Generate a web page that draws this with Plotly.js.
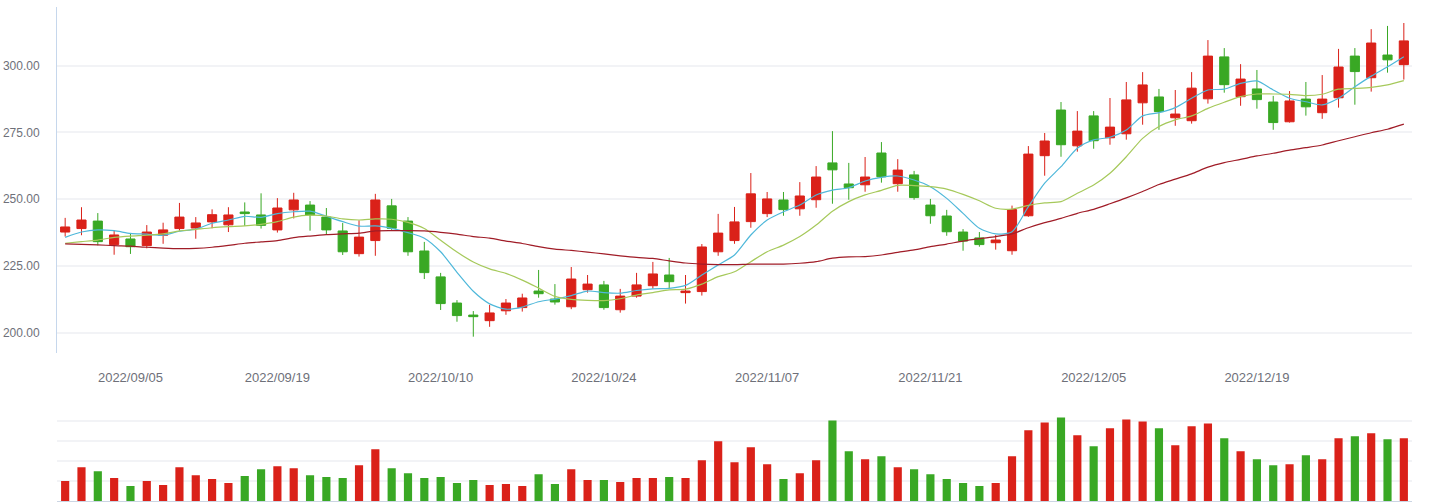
<!DOCTYPE html>
<html>
<head>
<meta charset="utf-8">
<script src="https://cdn.plot.ly/plotly-3.0.1.min.js"></script>
<style>html,body{margin:0;padding:0;background:#fff;}#chart{width:1429px;height:502px;}</style>
</head>
<body>
<div id="chart"></div>
<script>
const dates = [
"2022/08/30","2022/08/31","2022/09/01","2022/09/02","2022/09/05","2022/09/06","2022/09/07","2022/09/08","2022/09/09",
"2022/09/13","2022/09/14","2022/09/15","2022/09/16","2022/09/19","2022/09/20","2022/09/21","2022/09/22","2022/09/23",
"2022/09/26","2022/09/27","2022/09/28","2022/09/29","2022/09/30",
"2022/10/10","2022/10/11","2022/10/12","2022/10/13","2022/10/14","2022/10/17","2022/10/18","2022/10/19","2022/10/20","2022/10/21",
"2022/10/24","2022/10/25","2022/10/26","2022/10/27","2022/10/28","2022/10/31",
"2022/11/01","2022/11/02","2022/11/03","2022/11/04","2022/11/07","2022/11/08","2022/11/09","2022/11/10","2022/11/11",
"2022/11/14","2022/11/15","2022/11/16","2022/11/17","2022/11/18","2022/11/21","2022/11/22","2022/11/23","2022/11/24","2022/11/25",
"2022/11/28","2022/11/29","2022/11/30","2022/12/01","2022/12/02",
"2022/12/05","2022/12/06","2022/12/07","2022/12/08","2022/12/09","2022/12/12","2022/12/13","2022/12/14","2022/12/15","2022/12/16",
"2022/12/19","2022/12/20","2022/12/21","2022/12/22","2022/12/23","2022/12/26","2022/12/27","2022/12/28","2022/12/29","2022/12/30"
];
const openP = [237.7,239.0,241.8,233.0,235.1,232.6,236.5,239.0,239.2,241.5,240.4,245.2,244.1,238.5,246.0,247.8,243.3,238.1,229.6,234.5,247.5,241.8,230.6,
220.9,211.1,206.6,204.5,208.2,209.4,215.6,212.6,209.7,216.1,217.9,208.6,213.7,217.6,221.6,215.0,
215.4,230.3,234.5,241.6,244.6,249.7,246.4,249.8,263.6,255.7,255.4,267.3,255.8,259.1,247.8,243.7,237.7,235.5,233.7,
230.7,243.8,266.3,283.4,270.0,281.2,273.0,274.5,286.1,288.3,280.5,279.4,287.6,303.3,288.4,291.3,286.4,279.0,287.5,282.4,288.0,303.6,295.5,304.0,300.4];
const highP = [243.0,247.0,244.8,238.2,237.2,240.3,241.2,248.6,243.3,246.2,247.0,248.8,252.2,250.4,252.4,249.3,246.7,241.1,242.1,252.0,250.1,243.3,234.0,
222.4,212.2,208.1,210.4,212.6,214.6,223.5,218.2,224.6,221.6,219.4,216.4,222.4,226.5,228.0,221.6,
233.2,244.5,247.1,259.8,252.7,252.7,256.4,262.4,275.5,263.6,265.8,271.4,265.0,260.6,250.1,246.0,238.8,237.7,236.6,
247.6,269.9,274.8,286.4,283.0,283.0,287.9,293.9,297.6,291.3,290.9,297.6,309.6,306.6,300.6,298.4,288.7,290.5,293.9,296.5,306.3,306.6,313.7,314.9,316.0];
const lowP = [236.0,236.5,232.7,229.2,229.5,231.6,233.3,238.2,235.2,239.1,237.7,240.0,239.0,237.5,242.8,238.2,236.6,229.1,228.5,228.8,238.5,228.8,220.1,
208.5,204.1,198.5,202.2,206.7,207.9,213.1,210.5,208.8,215.0,208.6,207.5,213.1,216.5,216.5,210.9,
213.9,228.8,233.3,239.3,243.3,243.8,243.8,246.8,248.3,249.8,252.8,256.2,252.8,249.8,240.8,236.3,230.7,232.2,231.1,
229.2,243.4,258.8,265.9,267.8,268.9,270.4,272.3,277.9,276.0,277.5,278.3,285.8,289.9,285.0,283.9,276.0,278.7,281.3,280.1,284.3,285.4,290.3,297.4,294.8];
const closeP = [239.6,242.2,234.1,236.6,232.2,237.7,238.5,243.3,241.1,244.2,244.1,244.6,240.2,246.7,249.7,244.1,238.5,230.3,235.8,249.7,239.1,230.3,222.5,
210.9,206.4,206.0,207.4,211.1,213.0,214.6,211.5,220.1,218.2,209.4,213.7,217.9,222.0,219.1,215.6,
232.1,237.3,241.5,252.0,250.1,246.1,251.2,258.3,261.0,254.3,258.3,258.4,260.9,250.6,243.8,237.8,234.3,233.0,234.7,
246.1,266.9,271.8,270.4,275.5,271.9,277.0,287.2,292.8,282.8,281.9,291.6,303.6,292.9,295.0,287.3,278.7,286.8,284.6,287.5,299.5,297.8,308.5,302.2,309.3];
const ma5 = [235.7,237.7,238.5,238.2,237.2,236.9,236.5,238.0,238.8,241.0,242.2,243.6,243.2,244.6,245.3,245.5,243.6,241.6,239.9,240.0,239.1,237.5,235.4,
230.3,222.6,215.5,210.8,208.8,209.6,211.6,212.6,213.9,215.6,215.0,214.8,215.8,216.4,216.6,217.7,
221.6,225.4,229.1,236.6,242.2,245.3,247.8,251.6,253.4,254.3,256.8,258.2,258.7,257.2,254.7,250.3,244.7,239.1,237.0,
237.8,247.2,256.0,262.2,269.1,272.2,273.2,275.9,281.2,282.4,284.3,287.8,290.9,291.2,293.4,294.3,290.9,287.8,286.5,285.3,287.8,292.1,296.1,299.6,303.4];
const ma10 = [233.5,234.1,234.7,235.7,236.2,236.5,237.0,238.1,238.7,239.3,239.7,240.0,240.6,241.6,243.3,244.0,243.7,242.6,242.2,242.6,242.5,241.3,239.0,
234.6,230.2,226.5,223.9,222.2,219.7,216.7,213.6,212.5,212.1,212.0,212.7,214.1,215.0,216.0,216.3,
218.2,221.0,222.8,226.6,230.3,232.8,236.0,240.3,245.5,249.1,251.6,253.3,255.2,255.1,254.7,253.8,251.8,249.4,246.6,
246.3,247.7,248.6,249.1,252.2,255.3,259.7,265.9,272.8,277.2,279.7,281.2,284.0,286.3,288.4,289.4,289.4,289.3,288.8,289.3,291.2,291.5,291.9,292.8,294.4];
const ma20 = [233.3,233.1,232.9,232.6,232.4,232.0,231.7,231.5,231.6,232.0,232.7,233.5,234.0,234.5,235.6,236.2,236.7,237.0,237.3,238.1,238.2,238.2,238.1,
237.6,236.9,236.0,235.4,234.3,233.4,232.2,231.3,230.8,230.2,229.5,228.8,228.2,227.8,226.9,226.1,
225.7,225.5,225.5,225.7,225.7,225.7,226.0,226.6,227.9,228.4,228.5,229.1,230.1,231.0,232.2,233.2,234.3,235.2,236.0,
237.0,239.3,241.2,242.8,244.7,246.2,248.3,250.5,252.9,255.5,257.5,259.5,262.0,263.7,264.9,266.2,267.2,268.4,269.3,270.3,271.9,273.4,274.9,276.2,278.1];
const volume = [20,34,30,23,15,20,16,34,26,22,18,25,32,35,33,26,24,23,36,52,33,28,23,
24,18,21,16,17,15,27,17,32,21,21,19,23,23,24,23,
41,60,39,54,37,22,28,41,81,50,42,45,34,32,27,22,18,15,18,
45,71,79,84,66,55,73,82,80,73,56,75,78,63,50,42,36,37,46,42,63,65,68,62,63];
const tickDates = ["2022/09/05","2022/09/19","2022/10/10","2022/10/24","2022/11/07","2022/11/21","2022/12/05","2022/12/19"];

const RED = '#DA2119', GREEN = '#39A824';
const volColors = closeP.map((c, i) => c >= openP[i] ? RED : GREEN);

const traces = [
  {
    type: 'candlestick', x: dates, open: openP, high: highP, low: lowP, close: closeP,
    xaxis: 'x', yaxis: 'y', whiskerwidth: 0,
    increasing: {line: {color: RED, width: 1}, fillcolor: RED},
    decreasing: {line: {color: GREEN, width: 1}, fillcolor: GREEN},
    hoverinfo: 'skip'
  },
  {type: 'scatter', mode: 'lines', x: dates, y: ma5, xaxis: 'x', yaxis: 'y',
   line: {color: '#4FB8DA', width: 1.2, shape: 'spline', smoothing: 0.7}, hoverinfo: 'skip'},
  {type: 'scatter', mode: 'lines', x: dates, y: ma10, xaxis: 'x', yaxis: 'y',
   line: {color: '#A6C95B', width: 1.2, shape: 'spline', smoothing: 0.7}, hoverinfo: 'skip'},
  {type: 'scatter', mode: 'lines', x: dates, y: ma20, xaxis: 'x', yaxis: 'y',
   line: {color: '#A01C27', width: 1.2, shape: 'spline', smoothing: 0.7}, hoverinfo: 'skip'},
  {type: 'bar', x: dates, y: volume, xaxis: 'x2', yaxis: 'y2',
   marker: {color: volColors, line: {width: 0}}, hoverinfo: 'skip'}
];

const labelFont = {family: '"Liberation Sans", Arial, sans-serif', size: 12, color: '#6E7079'};

const layout = {
  width: 1429, height: 502,
  margin: {l: 57, r: 17, t: 0, b: 1, pad: 0},
  paper_bgcolor: '#ffffff', plot_bgcolor: '#ffffff',
  showlegend: false,
  boxgap: 0.44, boxgroupgap: 0, bargap: 0.5,
  xaxis: {
    type: 'category', categoryorder: 'array', categoryarray: dates,
    domain: [0, 1], anchor: 'y', range: [-0.5, dates.length - 0.5],
    rangeslider: {visible: false},
    showgrid: false, zeroline: false, showline: false, ticks: '',
    tickmode: 'array', tickvals: tickDates, ticktext: tickDates,
    tickfont: Object.assign({}, labelFont, {size: 13}),
    ticklabelstandoff: 15, fixedrange: true
  },
  yaxis: {
    domain: [0.296, 0.9866], range: [192.5, 322.1],
    tickmode: 'array', tickvals: [200, 225, 250, 275, 300], tickformat: '.2f',
    showgrid: true, gridcolor: '#F2F3F6', gridwidth: 2,
    showline: true, linecolor: '#C6D7EC', linewidth: 1,
    zeroline: false, ticks: '', ticklabelstandoff: 14,
    tickfont: labelFont, fixedrange: true
  },
  xaxis2: {
    type: 'category', categoryorder: 'array', categoryarray: dates,
    domain: [0, 1], anchor: 'y2', range: [-0.5, dates.length - 0.5],
    showticklabels: false, showgrid: false, zeroline: false,
    showline: true, linecolor: '#CBD5E3', linewidth: 1.5, ticks: '', fixedrange: true
  },
  yaxis2: {
    domain: [0, 0.1986], range: [0, 100],
    tickmode: 'array', tickvals: [20, 40, 60, 80, 100],
    showticklabels: false, showgrid: true, gridcolor: '#F2F3F6', gridwidth: 2,
    zeroline: false, showline: false, ticks: '', fixedrange: true
  }
};

Plotly.newPlot('chart', traces, layout, {displayModeBar: false, staticPlot: true});
</script>
</body>
</html>
